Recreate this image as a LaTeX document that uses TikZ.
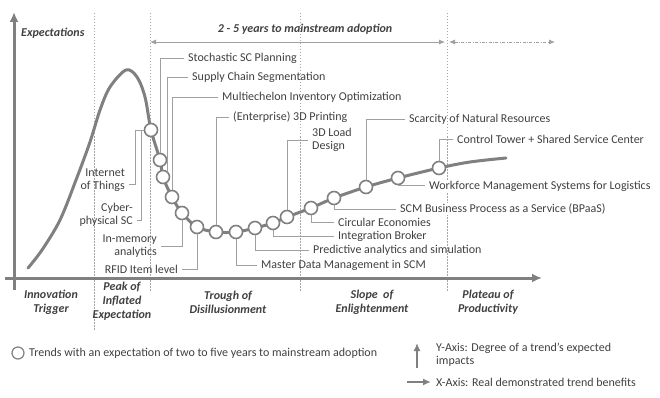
\documentclass[tikz,border=0pt]{standalone}
\usepackage{fontspec}
\setmainfont{Carlito}
\usetikzlibrary{arrows.meta,calc}
\definecolor{txt}{RGB}{64,64,64}
\definecolor{curvec}{RGB}{128,128,128}
\definecolor{leadc}{RGB}{160,160,160}
\definecolor{dashc}{RGB}{165,165,165}
\begin{document}
\begin{tikzpicture}[x=1pt,y=-1pt,
  lbl/.style={text=txt,font=\fontsize{12}{13}\selectfont,inner xsep=4pt,inner ysep=0.5pt,anchor=west,align=left},
  lblr/.style={lbl,anchor=east,align=right},
  phase/.style={text=txt,font=\fontsize{12}{14}\selectfont\bfseries\itshape,align=center,inner sep=0pt},
  trend/.style={circle,draw=curvec,fill=white,line width=1.6pt,minimum size=13pt,inner sep=0pt},
  leader/.style={draw=leadc,line width=0.8pt},
  vdash/.style={draw=dashc,line width=0.6pt,dash pattern=on 1.5pt off 1.5pt},
  axis/.style={draw=curvec,line width=3pt,-{Latex[length=10pt,width=9pt]}},
  smalltip/.tip={Latex[length=6pt,width=5pt]},
]
\useasboundingbox (0,0) rectangle (660,398);

% phase separators
\draw[vdash] (94,13) -- (94,330);
\draw[vdash] (150,13) -- (150,292);
\draw[vdash] (300,13) -- (300,292);
\draw[vdash] (447,13) -- (447,292);

% axes
\draw[axis] (14,290) -- (14,12);
\draw[axis] (5,278) -- (542,278);

% hype curve
\draw[curvec,line width=3pt,line cap=round] plot[smooth,tension=0.55] coordinates {
 (28,268) (42,250) (60,220) (76,180) (90,142) (100,110) (110,87) (126,70) (137,77) (145,97) (151,130)
 (160,160) (163,177) (172,197) (182,213) (197,227) (216,232) (236,232) (255,228) (273,223) (287,217)
 (311,208) (334,198) (366,187) (398,178) (439,168) (470,162) (506,158)};

% trend circles
\node[trend] (c1) at (151,130) {};
\node[trend] (c2) at (160,160) {};
\node[trend] (c3) at (163,177) {};
\node[trend] (c4) at (172,197) {};
\node[trend] (c5) at (182,213) {};
\node[trend] (c6) at (197,227) {};
\node[trend] (c7) at (216,232) {};
\node[trend] (c8) at (236,232) {};
\node[trend] (c9) at (255,228) {};
\node[trend] (c10) at (273,223) {};
\node[trend] (c11) at (287,217) {};
\node[trend] (c12) at (311,208) {};
\node[trend] (c13) at (334,198) {};
\node[trend] (c14) at (366,187) {};
\node[trend] (c15) at (398,178) {};
\node[trend] (c16) at (439,168) {};

% labels
\node[lbl] (stoch) at (184,58) {Stochastic SC Planning};
\node[lbl] (scs) at (188,77) {Supply Chain Segmentation};
\node[lbl] (mio) at (218,97) {Multiechelon Inventory Optimization};
\node[lbl] (e3d) at (229,117) {(Enterprise) 3D Printing};
\node[lbl] (load) at (308,140) {3D Load\\Design};
\node[lbl] (scar) at (405,119) {Scarcity of Natural Resources};
\node[lbl] (ctrl) at (453,139) {Control Tower + Shared Service Center};
\node[lbl,fill=white] (wf) at (425,186) {Workforce Management Systems for Logistics};
\node[lbl,fill=white] (scm) at (396,209) {SCM Business Process as a Service (BPaaS)};
\node[lbl] (circ) at (334,222) {Circular Economies};
\node[lbl] (intb) at (334,236) {Integration Broker};
\node[lbl] (pred) at (309,250) {Predictive analytics and simulation};
\node[lbl] (mdm) at (257,265) {Master Data Management in SCM};
\node[lblr] (rfid) at (182,269) {RFID Item level};
\node[lblr] (inmem) at (161,246.5) {In-memory\\analytics};
\node[lblr] (iot) at (129,180) {Internet\\of Things};
\node[lblr] (cps) at (137,215) {Cyber-\\physical SC};

% leaders
\draw[leader] (stoch.west) -| (c2.north);
\draw[leader] (scs.west) -| (c3.55);
\draw[leader] (mio.west) -| (c4.north);
\draw[leader] (e3d.west) -| (c7.north);
\draw[leader] (load.west) -| (c11.north);
\draw[leader] (scar.west) -| (c14.north);
\draw[leader] (ctrl.west) -| (c16.north);
\draw[leader] (c15.south) -- (c15.south -| wf.west);
\draw[leader] (c13.south) |- (scm.west);
\draw[leader] (c12.south) |- (circ.west);
\draw[leader] (c10.south) |- (intb.west);
\draw[leader] (c9.south) |- (pred.west);
\draw[leader] (c8.south) |- (mdm.west);
\draw[leader] (c6.south) |- (rfid.east);
\draw[leader] (c5.south) |- (inmem.east);
\coordinate (iotk) at (135,184);
\coordinate (cpsk) at (141,220);
\draw[leader] (c1.west) -| (iotk) -- (iotk -| iot.east);
\draw[leader] (c1.west) -| (cpsk) -- (cpsk -| cps.east);

% top annotations
\node[phase,anchor=west] (exp) at (21,33) {Expectations};
\node[phase] (span) at (305,29) {2 - 5 years to mainstream adoption};
\coordinate (a1) at (150,42);
\coordinate (a2) at (445,42);
\coordinate (a3) at (449,42);
\coordinate (a4) at (555,42);
\draw[leadc,line width=0.8pt,smalltip-smalltip] (a1) -- (a2);
\draw[leadc,line width=0.8pt,dash pattern=on 3pt off 1.5pt on 0.8pt off 1.5pt,smalltip-smalltip] (a3) -- (a4);

% phase names
\node[phase] (p1) at (51,302) {Innovation\\Trigger};
\node[phase] (p2) at (122,301) {Peak of\\Inflated\\Expectation};
\node[phase] (p3) at (228,302) {Trough of\\Disillusionment};
\node[phase] (p4) at (372,302) {Slope~ of\\Enlightenment};
\node[phase] (p5) at (488,302) {Plateau of\\Productivity};

% legend
\node[trend,minimum size=12pt,line width=1.2pt] (lgc) at (18,353) {};
\node[lbl] (lgt) at (25,353) {Trends with an expectation of two to five years to mainstream adoption};
\coordinate (ya1) at (417,368);
\coordinate (ya2) at (417,343);
\coordinate (xa1) at (407,382);
\coordinate (xa2) at (431,382);
\draw[curvec,line width=2pt,-{Latex[length=8pt,width=7pt]}] (ya1) -- (ya2);
\draw[curvec,line width=2pt,-{Latex[length=8pt,width=7pt]}] (xa1) -- (xa2);
\node[lbl] (ly) at (432,354.5) {Y-Axis: Degree of a trend’s expected\\impacts};
\node[lbl] (lx) at (432,382) {X-Axis: Real demonstrated trend benefits};
\end{tikzpicture}
\end{document}
